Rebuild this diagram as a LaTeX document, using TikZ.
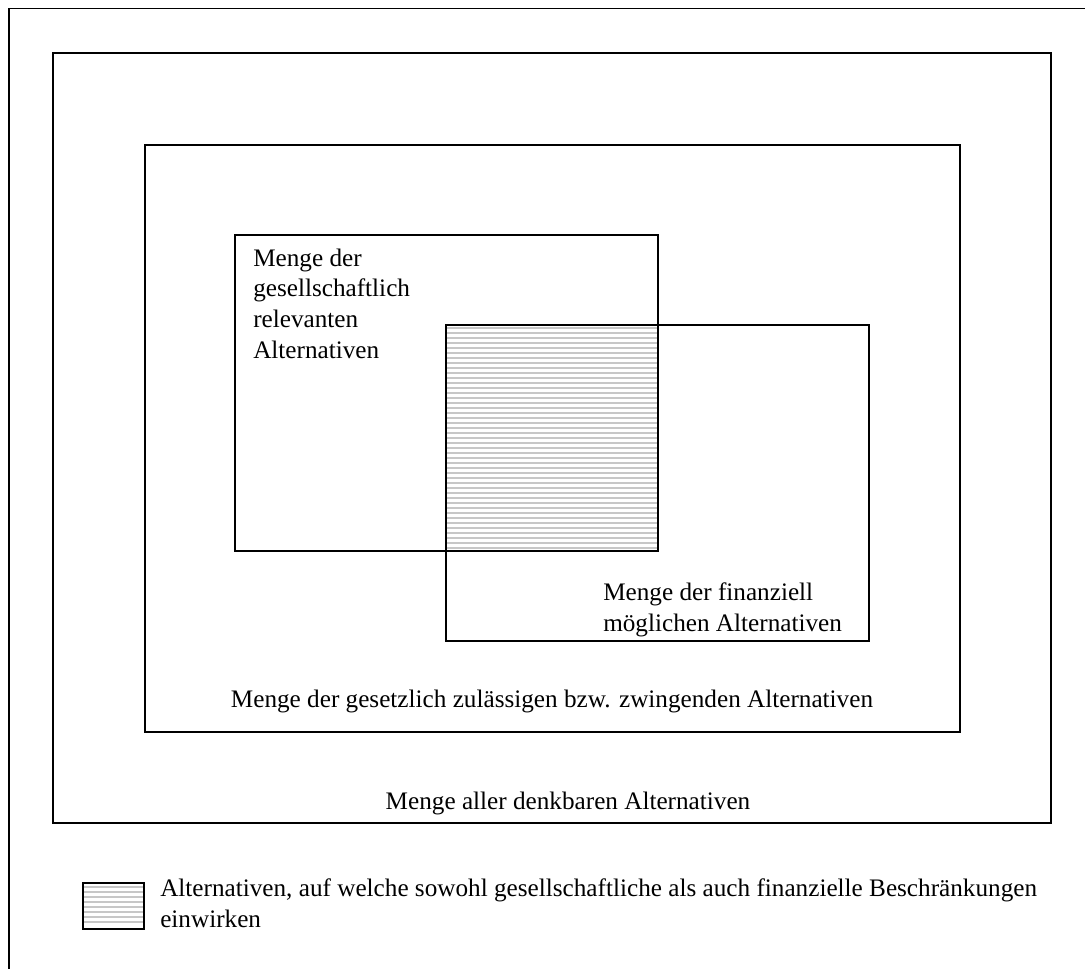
\documentclass[tikz,border=0pt]{standalone}
\usepackage{fontspec}
\setmainfont{Liberation Serif}
\begin{document}
\begin{tikzpicture}[x=0.75pt,y=-0.75pt,
  setline/.style={draw=black,line width=1.4pt},
  hatchline/.style={draw=black!22,line width=1.3pt},
  lbl/.style={font=\fontsize{18.9}{22.9}\selectfont,inner sep=0pt,align=left,anchor=base west},
  lblc/.style={font=\fontsize{18.9}{22.9}\selectfont,inner sep=0pt,anchor=base}]
\useasboundingbox (0,0) rectangle (1085,968);
\clip (0,0) rectangle (1085,968);

% outer frame (runs past the page on the right and bottom)
\draw[setline] (9,8.5) rectangle (1110,1000);

% hatching of the overlap of the two inner sets
\foreach \y in {328,333,...,548}
  \draw[hatchline] (446,\y) -- (658,\y);

% set boxes
\draw[setline] (53,53) rectangle (1051,823);   % all conceivable
\draw[setline] (145,145) rectangle (960,732);  % legally admissible
\draw[setline] (235,235) rectangle (658,551);  % socially relevant
\draw[setline] (446,325) rectangle (869,641);  % financially possible

% set labels (base anchor = baseline of the last line)
\node[lbl] (soc) at (253,358)
  {Menge der\\gesellschaftlich\\relevanten\\Alternativen};
\node[lbl] (fin) at (603,631)
  {Menge der finanziell\\möglichen Alternativen};
\node[lblc] (law) at (552,707)
  {Menge der gesetzlich zulässigen bzw. zwingenden Alternativen};
\node[lblc] (all) at (568,809) {Menge aller denkbaren Alternativen};

% legend
\foreach \y in {887,892,...,926}
  \draw[hatchline] (83,\y) -- (144,\y);
\draw[setline] (83,883) rectangle (144,929);
\node[lbl] (key) at (160,927)
  {Alternativen, auf welche sowohl gesellschaftliche als auch finanzielle Beschränkungen\\einwirken};
\end{tikzpicture}
\end{document}
